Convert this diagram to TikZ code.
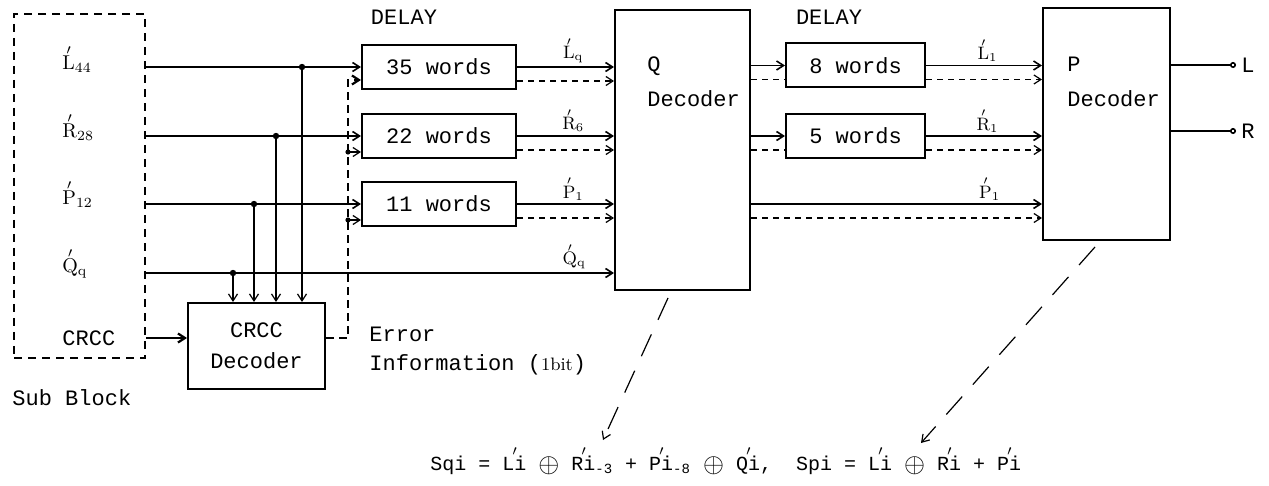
\documentclass[tikz,border=0pt]{standalone}
\usepackage{fontspec}
\setmonofont{Liberation Mono}
\usetikzlibrary{arrows.meta}

% prime set above a letter, and a prime between two letters
\newcommand\acc[1]{\ooalign{#1\cr\hidewidth\raisebox{0.74em}{$\scriptstyle\prime$}\hidewidth\cr}}
\newcommand\tk{\makebox[0pt][l]{\kern-0.1em\raisebox{0.74em}{$\scriptstyle\prime$}}}
\newcommand\xor{\raisebox{-0.12em}{\scalebox{1.35}{$\oplus$}}}

\begin{document}
\begin{tikzpicture}[x=0.5pt, y=-0.5pt, >={Straight Barb[length=3.5pt,width=4.5pt]}]

% Styles for boxes and texts
\tikzstyle{box}=[draw, line width=1pt, inner sep=0pt]
\tikzstyle{delay}=[box, minimum width=77pt, minimum height=22pt, font=\ttfamily\fontsize{11}{13}\selectfont]
\tikzstyle{txt}=[inner sep=1pt, font=\ttfamily\fontsize{11}{13}\selectfont]
\tikzstyle{lab}=[inner sep=1pt, font=\fontsize{10}{12}\selectfont]
\tikzstyle{lbl}=[above, inner sep=1.5pt, font=\fontsize{9}{11}\selectfont]

% Styles for connectors
\tikzstyle{sig}=[line width=0.8pt]
\tikzstyle{tap}=[line width=0.6pt]
\tikzstyle{dsh}=[line width=0.6pt, dash pattern=on 3pt off 2.5pt]
\tikzstyle{errl}=[line width=1.1pt, dash pattern=on 4pt off 2.5pt]
\tikzstyle{diag}=[line width=0.6pt, dash pattern=on 12pt off 8pt]

\useasboundingbox (0,0) rectangle (1269,486);

% Sub block
\node[draw, line width=1.2pt, dash pattern=on 4pt off 3pt, minimum width=65.5pt, minimum height=172pt] (sub) at (79.5,186) {};
\node[lab, anchor=west] (labL) at (60,64) {\acc{L}\textsubscript{44}};
\node[lab, anchor=west] (labR) at (60,132) {\acc{R}\textsubscript{28}};
\node[lab, anchor=west] (labP) at (60,199) {\acc{P}\textsubscript{12}};
\node[lab, anchor=west] (labQ) at (60,268) {\acc{Q}\textsubscript{q}};
\node[txt, anchor=west] (labC) at (60,338) {CRCC};
\node[txt, anchor=west] (subt) at (10,398) {Sub Block};

% Delays and decoders
\node[txt] (dl1) at (404,17) {DELAY};
\node[delay] (d35) at (439,67) {35 words};
\node[delay] (d22) at (439,136) {22 words};
\node[delay] (d11) at (439,204) {11 words};
\node[box, minimum width=67.5pt, minimum height=140pt] (qdec) at (682.5,150) {};
\node[txt, anchor=west, align=left, font=\ttfamily\fontsize{11}{17.5}\selectfont] (qtxt) at (645,82) {Q\\Decoder};
\node[txt] (dl2) at (829,17) {DELAY};
\node[delay, minimum width=69.5pt] (d8) at (855.5,65.5) {8 words};
\node[delay, minimum width=69.5pt] (d5) at (855.5,136) {5 words};
\node[box, minimum width=63.5pt, minimum height=116pt] (pdec) at (1106.5,124) {};
\node[txt, anchor=west, align=left, font=\ttfamily\fontsize{11}{17.5}\selectfont] (ptxt) at (1065,82) {P\\Decoder};
\node[box, minimum width=68.5pt, minimum height=43pt, align=center, font=\ttfamily\fontsize{11}{15.5}\selectfont] (crcc) at (256.5,346) {CRCC\\Decoder};
\node[txt, anchor=west, align=left, font=\ttfamily\fontsize{11}{14.5}\selectfont] (errt) at (367,351) {Error\\Information ({\rmfamily\small 1bit})};

% Outputs
\node[txt, anchor=west, inner sep=2.5pt] (outL) at (1236,65) {L};
\node[txt, anchor=west, inner sep=2.5pt] (outR) at (1236,131) {R};

% Named points
\coordinate (qy) at (0,273);
\coordinate (tapL) at (302,67);
\coordinate (tapR) at (276,136);
\coordinate (tapP) at (254,204);
\coordinate (tapQ) at (233,273);
\coordinate (etop) at (348,80);
\coordinate (b22) at ([yshift=3.5pt]d22.south west);
\coordinate (b11) at ([yshift=3.5pt]d11.south west);
\coordinate (o35) at ([yshift=-7pt]d35.east);
\coordinate (o22) at ([yshift=-7pt]d22.east);
\coordinate (o11) at ([yshift=-7pt]d11.east);
\coordinate (i8) at ([yshift=-7pt]d8.west);
\coordinate (i5) at ([yshift=-7pt]d5.west);
\coordinate (o8) at ([yshift=-7pt]d8.east);
\coordinate (o5) at ([yshift=-7pt]d5.east);
\coordinate (qs) at (668,298);
\coordinate (qt) at (603,440);
\coordinate (ps) at (1095,247);
\coordinate (pt) at (921,443);

% Sub block to delays
\draw[sig,->] (sub.east |- d35) -- (d35.west);
\draw[sig,->] (sub.east |- d22) -- (d22.west);
\draw[sig,->] (sub.east |- d11) -- (d11.west);
\draw[sig,->] (sub.east |- qy) -- (qdec.west |- qy) node[lbl, pos=0.915] (lq4) {\acc{Q}\textsubscript{q}};
\draw[sig,line width=1.1pt,->] (labC.east -| sub.east) -- (crcc.west |- labC);

% Taps into the CRCC decoder
\foreach \t in {tapL,tapR,tapP,tapQ}{
  \fill (\t) circle (1.6pt);
  \draw[tap,->] (\t) -- (\t |- crcc.north);
}

% Error information
\draw[errl,->] (crcc.east |- labC) -| (etop) -- (d35.west |- etop);
\draw[tap,->] (etop |- b22) -- (b22);
\draw[tap,->] (etop |- b11) -- (b11);
\fill (etop |- b22) circle (1.3pt);
\fill (etop |- b11) circle (1.3pt);

% First delays to Q decoder
\draw[sig,->] (d35.east) -- (qdec.west |- d35) node[lbl, pos=0.58] (lq1) {\acc{L}\textsubscript{q}};
\draw[sig,->] (d22.east) -- (qdec.west |- d22) node[lbl, pos=0.58] (lq2) {\acc{R}\textsubscript{6}};
\draw[sig,->] (d11.east) -- (qdec.west |- d11) node[lbl, pos=0.58] (lq3) {\acc{P}\textsubscript{1}};
\draw[dsh,->] (o35) -- (qdec.west |- o35);
\draw[dsh,->] (o22) -- (qdec.west |- o22);
\draw[dsh,->] (o11) -- (qdec.west |- o11);

% Q decoder to second delays and P decoder
\draw[sig,->] (qdec.east |- d8) -- (d8.west);
\draw[sig,->] (qdec.east |- d5) -- (d5.west);
\draw[dsh] (qdec.east |- i8) -- (i8);
\draw[dsh] (qdec.east |- i5) -- (i5);
\draw[sig,->] (qdec.east |- d11) -- (pdec.west |- d11) node[lbl, pos=0.82] (lp3) {\acc{P}\textsubscript{1}};
\draw[dsh,->] (qdec.east |- o11) -- (pdec.west |- o11);
\draw[sig,->] (d8.east) -- (pdec.west |- d8) node[lbl, pos=0.53] (lp1) {\acc{L}\textsubscript{1}};
\draw[sig,->] (d5.east) -- (pdec.west |- d5) node[lbl, pos=0.53] (lp2) {\acc{R}\textsubscript{1}};
\draw[dsh,->] (o8) -- (pdec.west |- o8);
\draw[dsh,->] (o5) -- (pdec.west |- o5);

% P decoder outputs
\draw[sig,-{Circle[open,length=3pt]}] (pdec.east |- outL) -- (outL.west);
\draw[sig,-{Circle[open,length=3pt]}] (pdec.east |- outR) -- (outR.west);

% Syndromes
\node[anchor=base west, inner sep=0pt, font=\ttfamily\fontsize{10}{12}\selectfont] (frm) at (430,470)
  {Sqi = L\tk i \xor{} R\tk i\textsubscript{-3} + P\tk i\textsubscript{-8} \xor{} Q\tk i,\ \ Spi = L\tk i \xor{} R\tk i + P\tk i};
\draw[diag,->] (qs) -- (qt);
\draw[diag,->] (ps) -- (pt);

\end{tikzpicture}
\end{document}
